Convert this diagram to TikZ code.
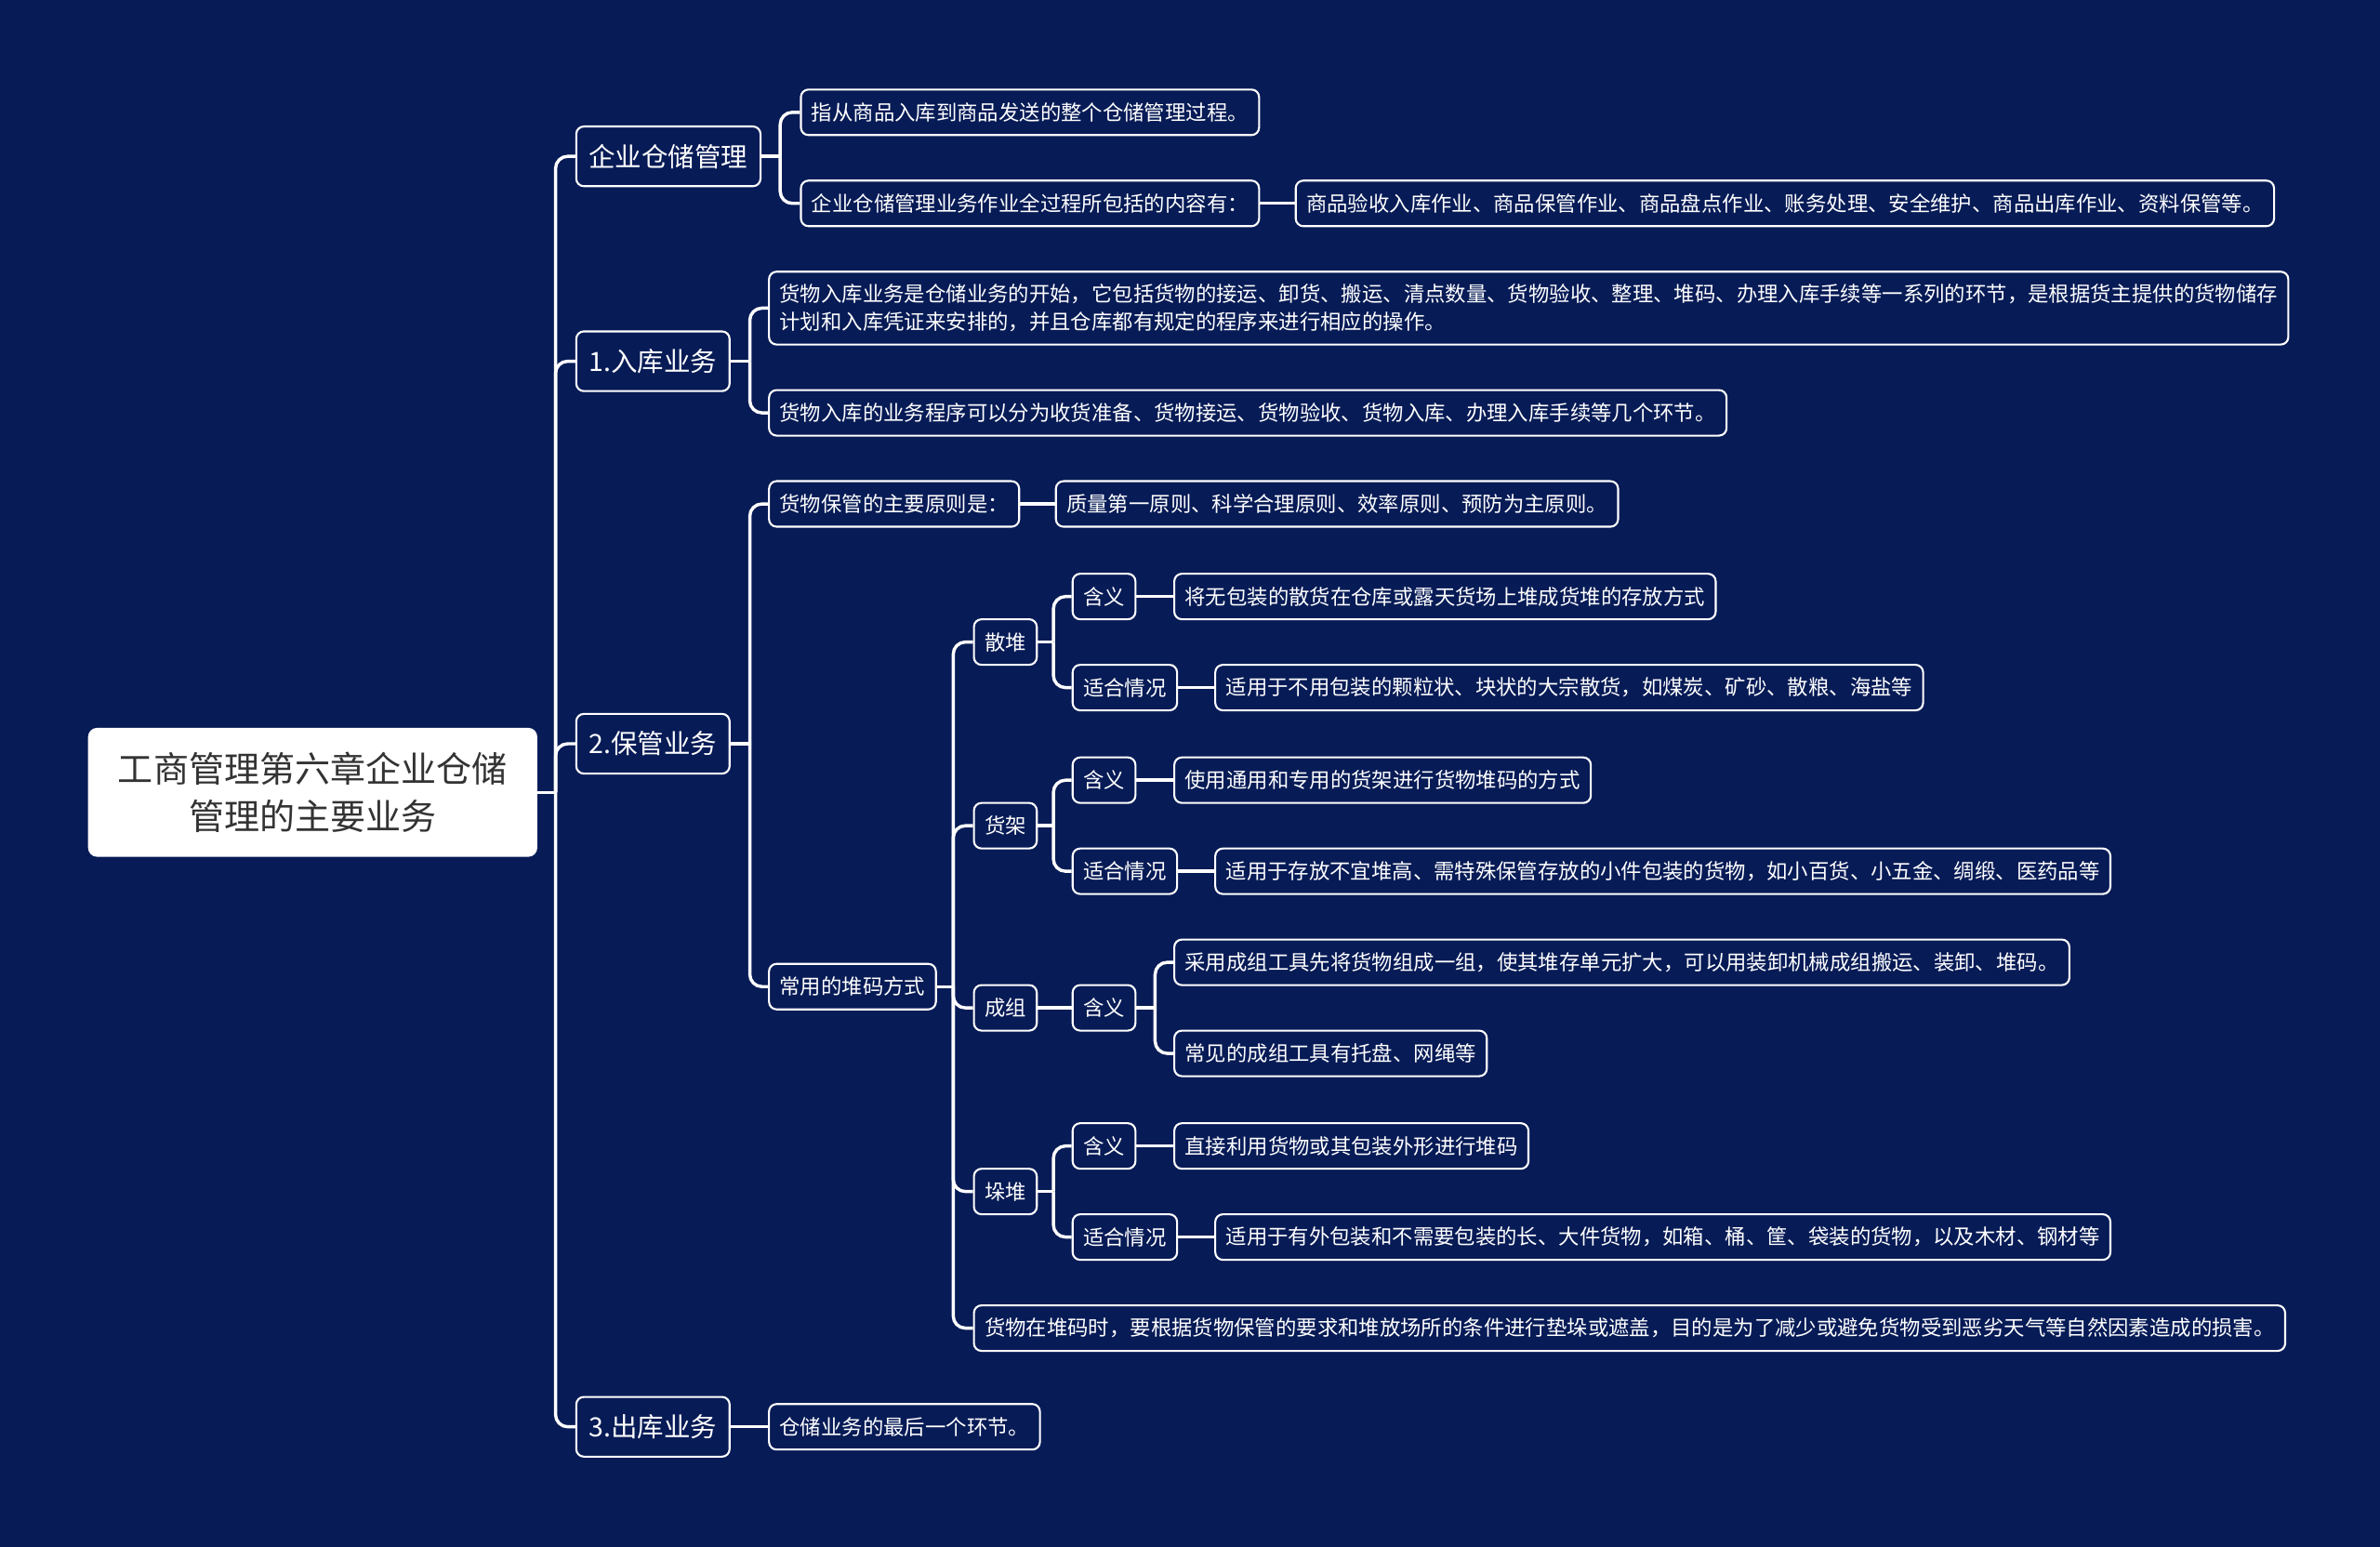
\documentclass[tikz,border=0pt]{standalone}
\usepackage{fontspec}
\setmainfont{Noto Sans CJK SC}
\usepackage{xcolor}
\definecolor{bgnavy}{HTML}{071B56}
\definecolor{rootink}{HTML}{333333}
\usepackage{tikz}
\usetikzlibrary{positioning, calc}
\tikzset{
  topic/.style={
    rectangle, rounded corners=0.15cm, draw=white, line width=1.1pt,
    fill=bgnavy, text=white, anchor=west, align=left,
    font=\fontsize{11.7pt}{15.4pt}\selectfont,
    inner xsep=0.21cm, inner ysep=0pt, minimum height=0.9cm
  },
  major/.style={topic, font=\fontsize{14.9pt}{18pt}\selectfont,
    inner xsep=0.25cm, minimum height=1.18cm},
  rootbox/.style={
    rectangle, rounded corners=0.18cm, fill=white, text=rootink,
    font=\fontsize{19.9pt}{26.5pt}\selectfont, align=center,
    minimum width=8.88cm, minimum height=2.55cm
  },
  conn/.style={draw=white, line width=1.8pt, rounded corners=0.24cm}
}

\begin{document}
\begin{tikzpicture}[x=0.03cm, y=-0.03cm]

  %% background
  \fill[bgnavy] (0,0) rectangle (1568,1019);

  %% root
  \node[rootbox] (root) at (206,522) {工商管理第六章企业仓储\\管理的主要业务};

  %% main branches
  \node[major] (n1) at (379,103) {企业仓储管理};
  \node[major] (n2) at (379,238) {1.入库业务};
  \node[major] (n3) at (379,490) {2.保管业务};
  \node[major] (n4) at (379,940) {3.出库业务};

  %% 企业仓储管理
  \node[topic] (a1) at (527,74)  {指从商品入库到商品发送的整个仓储管理过程。};
  \node[topic] (a2) at (527,134) {企业仓储管理业务作业全过程所包括的内容有：};
  \node[topic] (a3) at (853,134) {商品验收入库作业、商品保管作业、商品盘点作业、账务处理、安全维护、商品出库作业、资料保管等。};

  %% 入库业务
  \node[topic, minimum height=1.44cm] (b1) at (506,203)
    {货物入库业务是仓储业务的开始，它包括货物的接运、卸货、搬运、清点数量、货物验收、整理、堆码、办理入库手续等一系列的环节，是根据货主提供的货物储存\\计划和入库凭证来安排的，并且仓库都有规定的程序来进行相应的操作。};
  \node[topic] (b2) at (506,272) {货物入库的业务程序可以分为收货准备、货物接运、货物验收、货物入库、办理入库手续等几个环节。};

  %% 保管业务
  \node[topic] (c1) at (506,332) {货物保管的主要原则是：};
  \node[topic] (c2) at (695,332) {质量第一原则、科学合理原则、效率原则、预防为主原则。};
  \node[topic] (c3) at (506,650) {常用的堆码方式};

  \node[topic] (s1) at (641,423) {散堆};
  \node[topic] (s2) at (641,544) {货架};
  \node[topic] (s3) at (641,664) {成组};
  \node[topic] (s4) at (641,785) {垛堆};
  \node[topic] (s5) at (641,875) {货物在堆码时，要根据货物保管的要求和堆放场所的条件进行垫垛或遮盖，目的是为了减少或避免货物受到恶劣天气等自然因素造成的损害。};

  \node[topic] (t11) at (706,393) {含义};
  \node[topic] (t12) at (706,453) {适合情况};
  \node[topic] (u11) at (773,393) {将无包装的散货在仓库或露天货场上堆成货堆的存放方式};
  \node[topic] (u12) at (800,453) {适用于不用包装的颗粒状、块状的大宗散货，如煤炭、矿砂、散粮、海盐等};

  \node[topic] (t21) at (706,514) {含义};
  \node[topic] (t22) at (706,574) {适合情况};
  \node[topic] (u21) at (773,514) {使用通用和专用的货架进行货物堆码的方式};
  \node[topic] (u22) at (800,574) {适用于存放不宜堆高、需特殊保管存放的小件包装的货物，如小百货、小五金、绸缎、医药品等};

  \node[topic] (t31) at (706,664) {含义};
  \node[topic] (u31) at (773,634) {采用成组工具先将货物组成一组，使其堆存单元扩大，可以用装卸机械成组搬运、装卸、堆码。};
  \node[topic] (u32) at (773,694) {常见的成组工具有托盘、网绳等};

  \node[topic] (t41) at (706,755) {含义};
  \node[topic] (t42) at (706,815) {适合情况};
  \node[topic] (u41) at (773,755) {直接利用货物或其包装外形进行堆码};
  \node[topic] (u42) at (800,815) {适用于有外包装和不需要包装的长、大件货物，如箱、桶、筐、袋装的货物，以及木材、钢材等};

  %% 出库业务
  \node[topic] (d1) at (506,940) {仓储业务的最后一个环节。};

  %% trunks
  \coordinate (k0) at (366,522);
  \coordinate (k1) at (514,103);
  \coordinate (k2) at (494,238);
  \coordinate (k3) at (494,490);
  \coordinate (k4) at (628,650);
  \coordinate (k5) at (694,423);
  \coordinate (k6) at (694,544);
  \coordinate (k7) at (761,664);
  \coordinate (k8) at (694,785);

  %% connectors
  \draw[conn] (root.east) -- (k0);
  \foreach \c in {n1,n2,n3,n4} \draw[conn] (k0) |- (\c.west);
  \draw[conn] (n1.east) -- (k1);
  \foreach \c in {a1,a2} \draw[conn] (k1) |- (\c.west);
  \draw[conn] (a2) -- (a3);
  \draw[conn] (n2.east) -- (k2);
  \foreach \c in {b1,b2} \draw[conn] (k2) |- (\c.west);
  \draw[conn] (n3.east) -- (k3);
  \foreach \c in {c1,c3} \draw[conn] (k3) |- (\c.west);
  \draw[conn] (c1) -- (c2);
  \draw[conn] (n4) -- (d1);
  \draw[conn] (c3.east) -- (k4);
  \foreach \c in {s1,s2,s3,s4,s5} \draw[conn] (k4) |- (\c.west);
  \draw[conn] (s1.east) -- (k5);
  \foreach \c in {t11,t12} \draw[conn] (k5) |- (\c.west);
  \draw[conn] (t11) -- (u11); \draw[conn] (t12) -- (u12);
  \draw[conn] (s2.east) -- (k6);
  \foreach \c in {t21,t22} \draw[conn] (k6) |- (\c.west);
  \draw[conn] (t21) -- (u21); \draw[conn] (t22) -- (u22);
  \draw[conn] (s3) -- (t31);
  \draw[conn] (t31.east) -- (k7);
  \foreach \c in {u31,u32} \draw[conn] (k7) |- (\c.west);
  \draw[conn] (s4.east) -- (k8);
  \foreach \c in {t41,t42} \draw[conn] (k8) |- (\c.west);
  \draw[conn] (t41) -- (u41); \draw[conn] (t42) -- (u42);

\end{tikzpicture}
\end{document}
